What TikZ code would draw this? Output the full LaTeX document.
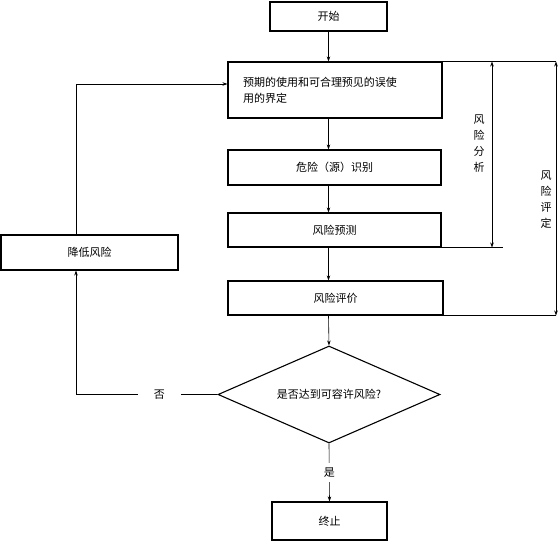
\documentclass[tikz,border=0pt]{standalone}
\usepackage{fontspec}
\usepackage{tikz}
\newfontfamily\cjk{Noto Sans CJK SC}
\usetikzlibrary{shapes,arrows,positioning,calc,arrows.meta}

\begin{document}
\begin{tikzpicture}[x=1pt,y=-1pt,
    box/.style={draw,line width=1.1pt,inner sep=0pt,font=\cjk\fontsize{11}{16}\selectfont},
    line/.style={line width=0.6pt},
    arr/.style={line width=0.6pt,-{Stealth[length=5pt,width=3.5pt]}},
    dblarr/.style={line width=0.9pt,{Stealth[length=5pt,width=3.5pt]}-{Stealth[length=5pt,width=3.5pt]}},
    lbl/.style={font=\cjk\fontsize{11}{16}\selectfont,fill=white,inner sep=2pt}]
    \useasboundingbox (0,0) rectangle (558,541);
    \node[box,minimum width=117pt,minimum height=29pt] (start) at (328.5,16.5) {开始};
    \node[box,minimum width=214pt,minimum height=56pt,text width=184pt,align=left] (def) at (335,90) {预期的使用和可合理预见的误使\\用的界定};
    \node[box,minimum width=213pt,minimum height=35pt] (hazard) at (334.5,167.5) {危险（源）识别};
    \node[box,minimum width=213pt,minimum height=34pt] (estim) at (334.5,230) {风险预测};
    \node[box,minimum width=215pt,minimum height=34pt] (evalu) at (335.5,298) {风险评价};
    \node[box,shape=diamond,aspect=2.3,minimum width=222pt,minimum height=97pt] (decide) at (329,394.5) {是否达到可容许风险?};
    \node[box,minimum width=115pt,minimum height=38pt] (stop) at (329.5,521) {终止};
    \node[box,minimum width=177pt,minimum height=35pt] (reduce) at (89.5,252.5) {降低风险};
    \coordinate (loopx) at (76,0);
    \coordinate (defin) at ([yshift=6pt]def.west);
    \coordinate (ra) at (492,0);
    \coordinate (rb) at (556,0);
    % main flow
    \draw[arr] (start) -- (start |- def.north);
    \draw[arr] (start |- def.south) -- (start |- hazard.north);
    \draw[arr] (start |- hazard.south) -- (start |- estim.north);
    \draw[arr] (start |- estim.south) -- (start |- evalu.north);
    \draw[arr] (start |- evalu.south) -- (decide.north);
    \draw[arr] (decide.south) -- node[lbl,inner ysep=5pt] {是} (stop.north);
    % loop back
    \draw[arr] (decide.west) -- node[lbl,pos=0.41,inner xsep=16pt] {否} (loopx |- decide) -- (loopx |- reduce.south);
    \draw[arr] (loopx |- reduce.north) -- (loopx |- defin) -- (defin);
    % brackets
    \draw[line] (def.north east) -- (rb |- def.north);
    \draw[dblarr] (ra |- def.north) -- (ra |- estim.south);
    \draw[line] (estim.south east) -- ([xshift=11pt]ra |- estim.south);
    \draw[dblarr] (rb |- def.north) -- (rb |- evalu.south);
    \draw[line] (evalu.south east) -- (rb |- evalu.south);
    \node[font=\cjk\fontsize{11}{16}\selectfont,align=center] (analysis) at (479,144) {风\\险\\分\\析};
    \node[font=\cjk\fontsize{11}{16}\selectfont,align=center] (assess) at (546,200) {风\\险\\评\\定};
\end{tikzpicture}
\end{document}
